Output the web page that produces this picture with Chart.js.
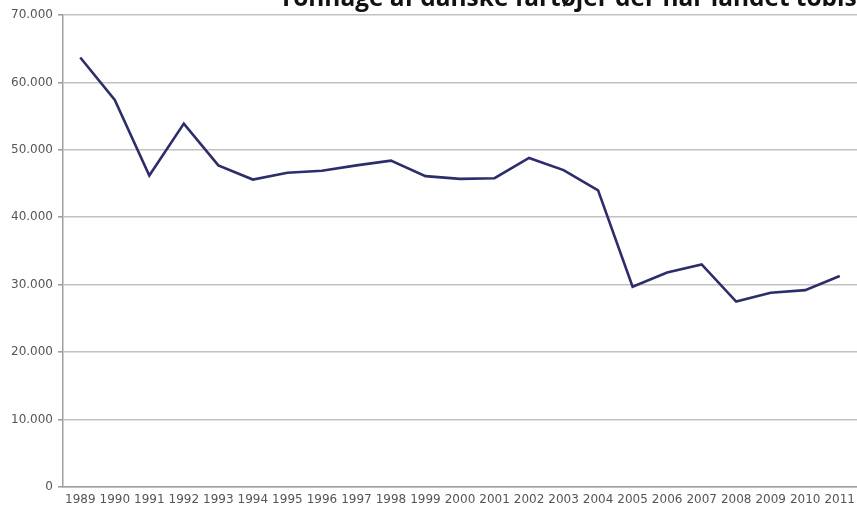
<!DOCTYPE html>
<html>
<head>
<meta charset="utf-8">
<script src="https://cdn.jsdelivr.net/npm/chart.js@4/dist/chart.umd.min.js"></script>
<style>
  html, body { margin: 0; padding: 0; background: #ffffff; overflow: hidden; }
  #wrap { position: relative; width: 857px; height: 508px; }
</style>
</head>
<body>
<div id="wrap"><canvas id="c" width="857" height="508"></canvas></div>
<script>
const titleText = "Tonnage af danske fartøjer der har landet tobis";
const years = ["1989","1990","1991","1992","1993","1994","1995","1996","1997","1998","1999","2000",
               "2001","2002","2003","2004","2005","2006","2007","2008","2009","2010","2011"];
const tonnage = [63700, 57400, 46200, 53900, 47700, 45600, 46600, 46900, 47700, 48400, 46100, 45700,
                 45800, 48800, 47000, 44000, 29700, 31800, 33000, 27500, 28800, 29200, 31300];
const yTicks = [0, 10000, 20000, 30000, 40000, 50000, 60000, 70000];

function fmt(v) {
  return String(v).replace(/\B(?=(\d{3})+(?!\d))/g, ".");
}

const titlePlugin = {
  id: 'cutTitle',
  afterDraw(chart) {
    const ctx = chart.ctx;
    ctx.save();
    let size = 21;
    ctx.font = 'bold ' + size + 'px "Open Sans", sans-serif';
    const w = ctx.measureText(titleText).width;
    size = size * 578 / w;
    ctx.font = 'bold ' + size.toFixed(2) + 'px "Open Sans", sans-serif';
    ctx.fillStyle = '#111111';
    ctx.textBaseline = 'alphabetic';
    ctx.fillText(titleText, 279, 6);
    ctx.restore();
  }
};

new Chart(document.getElementById('c'), {
  type: 'line',
  data: {
    labels: years,
    datasets: [{
      data: tonnage,
      borderColor: '#2d2d6c',
      borderWidth: 2.6,
      pointRadius: 0,
      tension: 0,
      fill: false
    }]
  },
  options: {
    responsive: false,
    animation: false,
    devicePixelRatio: 1,
    layout: { padding: { top: 15, right: 0, left: 0, bottom: 0 } },
    plugins: { legend: { display: false }, tooltip: { enabled: false }, title: { display: false } },
    scales: {
      x: {
        type: 'category',
        offset: true,
        grid: { display: false, drawTicks: true, tickLength: 5 },
        border: { display: true, color: '#a0a0a0', width: 1.5 },
        ticks: {
          autoSkip: false, maxRotation: 0, minRotation: 0, padding: 1,
          color: '#555555',
          font: { family: '"DejaVu Sans", sans-serif', size: 12 }
        },
        afterFit(scale) { scale.height = 21; }
      },
      y: {
        min: 0, max: 70000,
        afterBuildTicks(scale) { scale.ticks = yTicks.map(v => ({ value: v })); },
        grid: { color: '#c2c2c2', lineWidth: 1.6, tickLength: 5, tickColor: '#a0a0a0' },
        border: { display: true, color: '#a0a0a0', width: 1.5 },
        ticks: {
          padding: 5,
          color: '#555555',
          font: { family: '"DejaVu Sans", sans-serif', size: 12 },
          callback: (v) => fmt(v)
        },
        afterFit(scale) { scale.width = 63; }
      }
    }
  },
  plugins: [titlePlugin]
});
</script>
</body>
</html>
